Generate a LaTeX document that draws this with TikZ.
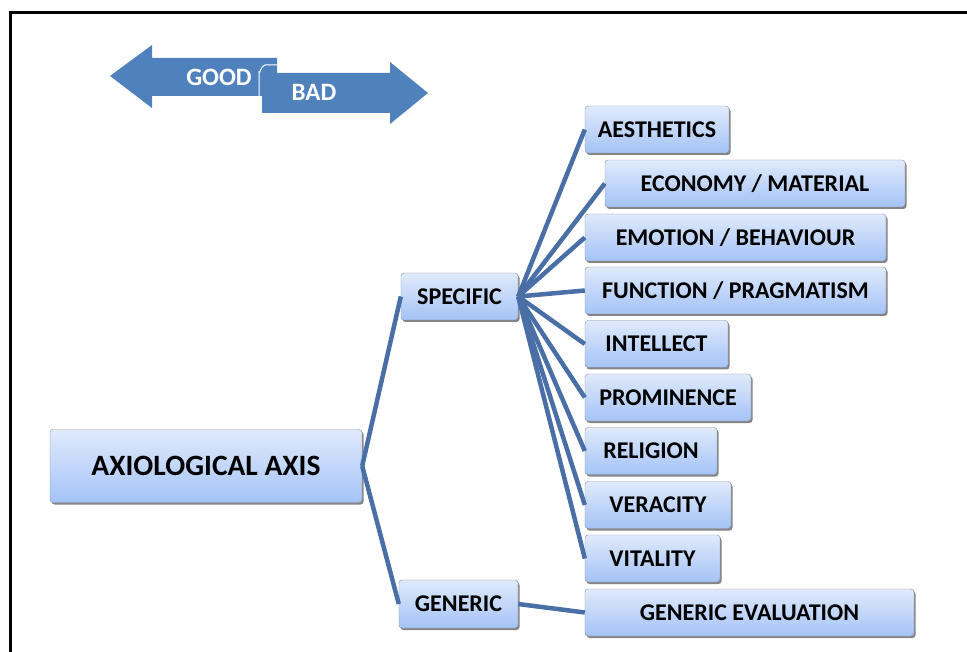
\documentclass[tikz,border=0pt]{standalone}
\usepackage{fontspec}
\setmainfont{Carlito}
\usetikzlibrary{shadows}
\definecolor{boxtop}{HTML}{E0EAFB}
\definecolor{boxbot}{HTML}{A4C3F6}
\definecolor{boxline}{HTML}{8A8F99}
\definecolor{linkblue}{HTML}{4A6FA6}
\definecolor{arrowblue}{HTML}{4F81BD}
\tikzset{
  cat/.style={draw=boxline, rounded corners=3pt, top color=boxtop, bottom color=boxbot,
    minimum height=47pt, inner sep=0pt, font=\bfseries\fontsize{24}{28}\selectfont,
    drop shadow={shadow xshift=1.5pt, shadow yshift=-2pt, fill=black!60, opacity=0.8}},
  link/.style={draw=linkblue, line width=4.5pt},
  lbl/.style={text=white, inner sep=0pt, font=\bfseries\fontsize{25}{28}\selectfont}
}
\begin{document}
\begin{tikzpicture}[x=1pt, y=-1pt]
    \useasboundingbox (0,0) rectangle (967,652);
    \draw [line width=3pt] (10,652) -- (10,13) -- (967,13);
    \fill [arrowblue] (110,76) -- (152,45) -- (152,58) -- (277,58) -- (277,96) -- (152,96) -- (152,108) -- cycle;
    \fill [arrowblue] (428,93) -- (390,62) -- (390,73) -- (262,73) -- (262,113) -- (390,113) -- (390,124) -- cycle;
    \draw [white, line width=1pt] (259,106) -- (259,72) to[out=270, in=180] (265,65) -- (277,65);
    \node [lbl] (n) at (219, 77) {GOOD};
    \node [lbl] (o) at (314, 92) {BAD};
    \node [cat, minimum width=312pt, minimum height=73pt, font=\bfseries\fontsize{29.5}{33}\selectfont] (a) at (206, 466) {AXIOLOGICAL AXIS};
    \node [cat, minimum width=117pt] (b) at (459.5, 296.5) {SPECIFIC};
    \node [cat, minimum width=119pt, minimum height=48pt] (c) at (458.5, 604) {GENERIC};
    \node [cat, minimum width=144pt] (d) at (657, 129.5) {AESTHETICS};
    \node [cat, minimum width=300pt] (e) at (755, 183.5) {ECONOMY / MATERIAL};
    \node [cat, minimum width=301pt] (f) at (735.5, 237.5) {EMOTION / BEHAVIOUR};
    \node [cat, minimum width=301pt] (g) at (735.5, 290.5) {FUNCTION / PRAGMATISM};
    \node [cat, minimum width=143pt] (h) at (656.5, 344) {INTELLECT};
    \node [cat, minimum width=166pt] (i) at (668, 397.5) {PROMINENCE};
    \node [cat, minimum width=132pt] (j) at (651, 451) {RELIGION};
    \node [cat, minimum width=146pt] (k) at (658, 505) {VERACITY};
    \node [cat, minimum width=135pt] (l) at (652.5, 558.5) {VITALITY};
    \node [cat, minimum width=329pt] (m) at (749.5, 612.5) {GENERIC EVALUATION};
    \draw [link] (a.east) to (b.west);
    \draw [link] (a.east) to (c.west);
    \draw [link] (b.east) to (d.west);
    \draw [link] (b.east) to (e.west);
    \draw [link] (b.east) to (f.west);
    \draw [link] (b.east) to (g.west);
    \draw [link] (b.east) to (h.west);
    \draw [link] (b.east) to (i.west);
    \draw [link] (b.east) to (j.west);
    \draw [link] (b.east) to (k.west);
    \draw [link] (b.east) to (l.west);
    \draw [link] (c.east) to (m.west);
  \end{tikzpicture}
\end{document}
